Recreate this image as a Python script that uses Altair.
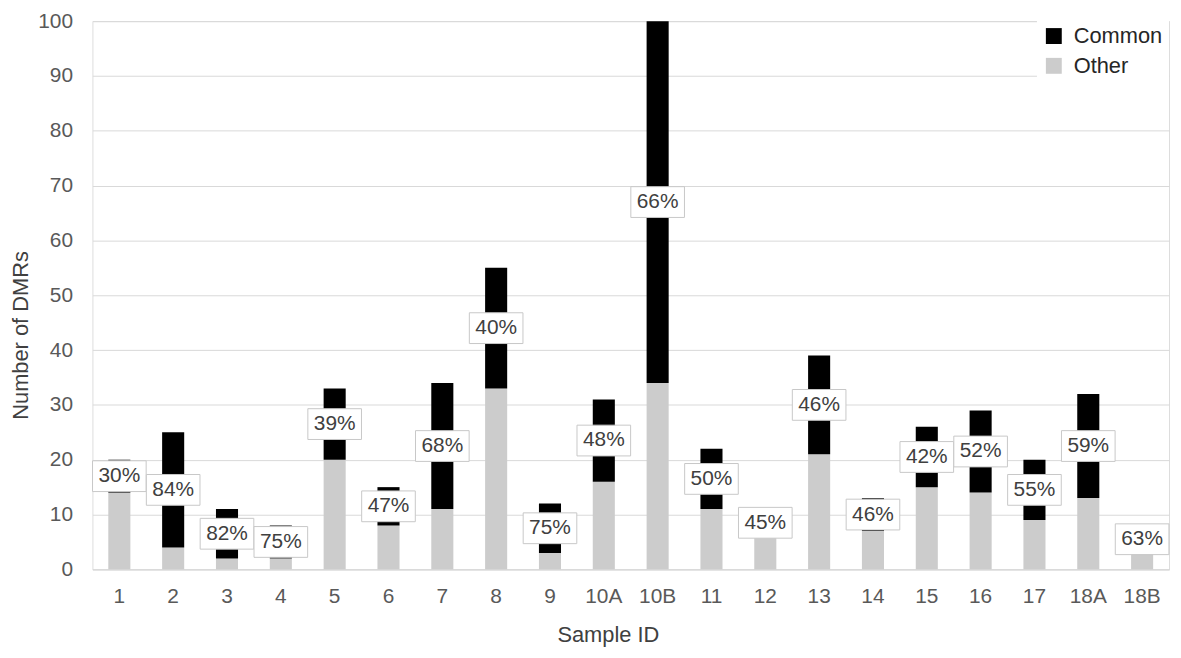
import altair as alt
import pandas as pd

samples = ["1", "2", "3", "4", "5", "6", "7", "8", "9", "10A", "10B",
           "11", "12", "13", "14", "15", "16", "17", "18A", "18B"]
other = [14, 4, 2, 2, 20, 8, 11, 33, 3, 16, 34, 11, 6, 21, 7, 15, 14, 9, 13, 3]
common = [6, 21, 9, 6, 13, 7, 23, 22, 9, 15, 66, 11, 5, 18, 6, 11, 15, 11, 19, 5]
pct = [30, 84, 82, 75, 39, 47, 68, 40, 75, 48, 66, 50, 45, 46, 46, 42, 52, 55, 59, 63]

rows = []
for s, o, c in zip(samples, other, common):
    rows.append({"sample": s, "type": "Other", "value": o, "ord": 0})
    rows.append({"sample": s, "type": "Common", "value": c, "ord": 1})
long_df = pd.DataFrame(rows)

lab_df = pd.DataFrame({"sample": samples, "other": other, "common": common,
                       "pct": [f"{p}%" for p in pct]})

FONT = "Liberation Sans"
PLOT_H = 552

x_enc = alt.X("sample:N", sort=samples,
              scale=alt.Scale(paddingInner=0.59, paddingOuter=0.295),
              axis=alt.Axis(title="Sample ID", labelAngle=0, labelFontSize=21,
                            titleFontSize=22, titleFontWeight="normal",
                            labelColor="#595959", titleColor="#404040",
                            labelFont=FONT, titleFont=FONT,
                            domain=True, domainColor="#d9d9d9", ticks=False,
                            labelPadding=16, titlePadding=19, titleX=519))

bars = alt.Chart(long_df).mark_bar().encode(
    x=x_enc,
    y=alt.Y("value:Q", stack="zero",
            scale=alt.Scale(domain=[0, 100], nice=False),
            axis=alt.Axis(title="Number of DMRs", values=list(range(0, 101, 10)),
                          labelFontSize=21, titleFontSize=22, titleFontWeight="normal",
                          labelColor="#595959", titleColor="#404040",
                          labelFont=FONT, titleFont=FONT,
                          domain=False, ticks=False, gridColor="#d9d9d9",
                          labelPadding=20, titlePadding=5, titleY=316)),
    color=alt.Color("type:N",
                    scale=alt.Scale(domain=["Common", "Other"], range=["#000000", "#cccccc"]),
                    legend=alt.Legend(title=None, orient="none", legendX=951, legendY=-2,
                                      labelFontSize=22, labelFont=FONT, labelColor="#262626",
                                      symbolType="square", symbolSize=256,
                                      symbolStrokeWidth=0, rowPadding=8, labelOffset=9,
                                      fillColor="white", padding=6)),
    order=alt.Order("ord:Q", sort="ascending"),
)

base = alt.Chart(lab_df).transform_calculate(mid="datum.other + datum.common / 2")

boxes = base.mark_point(
    shape="M-1,-0.574 L1,-0.574 L1,0.574 L-1,0.574 Z",
    size=2916, filled=True, fill="white", stroke="#c8c8c8", strokeWidth=1, opacity=1
).encode(x=alt.X("sample:N", sort=samples), y=alt.Y("mid:Q"))

texts = base.mark_text(fontSize=21, font=FONT, color="#404040", baseline="middle").encode(
    x=alt.X("sample:N", sort=samples), y=alt.Y("mid:Q"), text="pct:N")

chart = alt.layer(bars, boxes, texts).properties(
    width=1084, height=PLOT_H,
    autosize=alt.AutoSizeParams(type="none"),
    padding={"left": 85, "top": 11, "right": 4, "bottom": 86},
).configure_view(strokeWidth=0).configure(font=FONT)

chart.save("out.html", embed_options={"renderer": "svg", "actions": False})
